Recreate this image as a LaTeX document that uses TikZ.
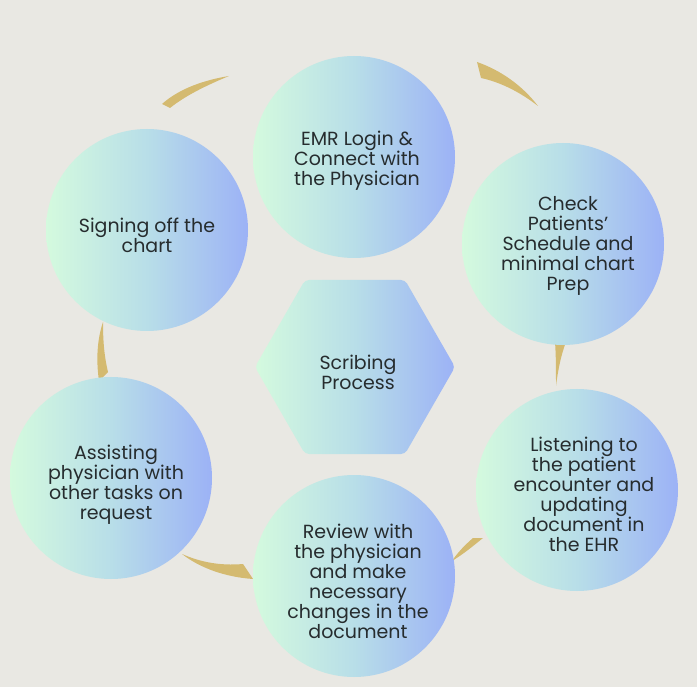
\documentclass[tikz,border=0pt]{standalone}
\usepackage{fontspec}
\setmainfont{Poppins}
\usetikzlibrary{shapes.geometric}
\definecolor{bg}{RGB}{233,232,227}
\definecolor{gold}{RGB}{212,186,112}
\definecolor{gleft}{RGB}{212,250,222}
\definecolor{gmid}{RGB}{184,222,232}
\definecolor{gright}{RGB}{156,178,246}
\definecolor{txt}{RGB}{38,44,46}
\tikzset{
  x=1pt, y=-1pt,
  blob/.style={left color=gleft, right color=gright, middle color=gmid},
  lbl/.style={align=center, text=txt, font=\fontsize{19}{20}\selectfont, inner sep=0pt},
  goldpiece/.style={fill=gold, draw=none}
}
\begin{document}
\begin{tikzpicture}
\fill[bg] (0,0) rectangle (697,687);
\useasboundingbox (0,0) rectangle (697,687);
% gold strokes
\fill[goldpiece] (162,104) .. controls (180,88) and (205,80) .. (229,76) .. controls (205,86) and (185,96) .. (170,108) -- cycle;
\fill[goldpiece] (477,62) .. controls (500,70) and (522,85) .. (538,106) .. controls (520,92) and (500,82) .. (481,78) -- cycle;
\fill[goldpiece] (103,322) .. controls (97,340) and (96,360) .. (99,381) -- (108,372) .. controls (104,355) and (103,340) .. (103,322) -- cycle;
\fill[goldpiece] (555,342) -- (566,342) .. controls (561,355) and (558,370) .. (556,386) .. controls (556,370) and (556,355) .. (555,342) -- cycle;
\fill[goldpiece] (182,554) .. controls (200,562) and (220,566) .. (243,564) -- (253,579) .. controls (225,577) and (200,568) .. (182,554) -- cycle;
\fill[goldpiece] (452,561) .. controls (458,552) and (465,545) .. (473,538) -- (483,538) .. controls (472,547) and (462,555) .. (452,561) -- cycle;
% circles
\shade[blob] (354,157) circle[radius=101];
\shade[blob] (563,244) circle[radius=101];
\shade[blob] (577,490) circle[radius=101];
\shade[blob] (354,576) circle[radius=101];
\shade[blob] (111,478) circle[radius=101];
\shade[blob] (147,230) circle[radius=101];
% hexagon
\shade[blob, rounded corners=4pt] (255,367) -- (305,280) -- (405,280) -- (455,367) -- (405,454) -- (305,454) -- cycle;
% labels
\node[lbl] (emr) at (357,161) {EMR Login \&\\Connect with\\the Physician};
\node[lbl] (chk) at (568,246) {Check\\Patients’\\Schedule and\\minimal chart\\Prep};
\node[lbl] (lis) at (584,494) {Listening to\\the patient\\encounter and\\updating\\document in\\the EHR};
\node[lbl] (rev) at (358,581) {Review with\\the physician\\and make\\necessary\\changes in the\\document};
\node[lbl] (ass) at (116,485) {Assisting\\physician with\\other tasks on\\request};
\node[lbl] (sig) at (147,235) {Signing off the\\chart};
\node[lbl] (scr) at (358,372) {Scribing\\Process};
\end{tikzpicture}
\end{document}
